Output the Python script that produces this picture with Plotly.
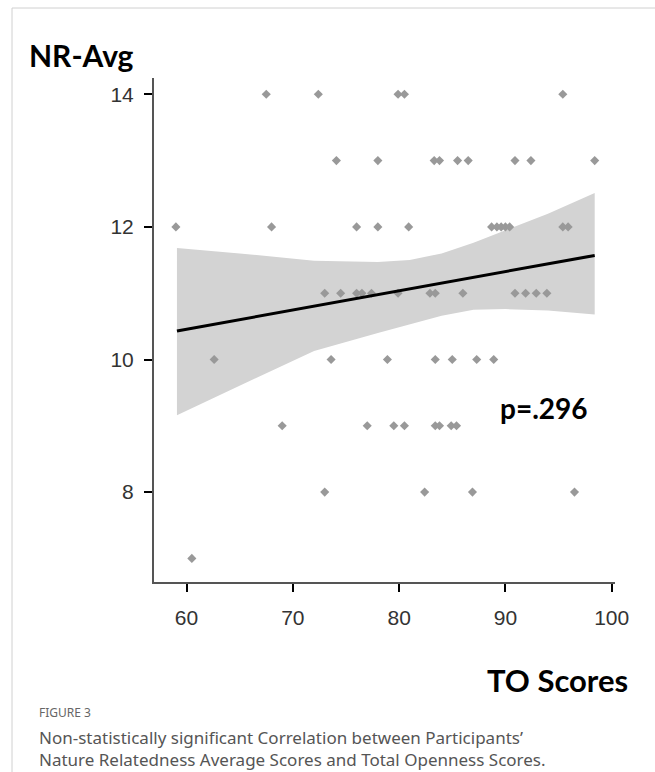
import plotly.graph_objects as go

# ---- data ----
to_scores = [
    # NR = 14
    67.5, 72.4, 79.9, 80.5, 95.4,
    # NR = 13
    74.1, 78.0, 83.3, 83.8, 85.5, 86.5, 90.9, 92.4, 98.4,
    # NR = 12
    59.0, 68.0, 76.0, 78.0, 80.9, 88.7, 89.2, 89.6, 90.0, 90.4, 95.4, 95.9,
    # NR = 11
    73.0, 74.5, 76.0, 76.5, 77.4, 79.9, 82.9, 83.4, 86.0, 90.9, 91.9, 92.9, 93.9,
    # NR = 10
    62.6, 73.6, 78.9, 83.4, 85.0, 87.3, 88.9,
    # NR = 9
    69.0, 77.0, 79.5, 80.5, 83.4, 83.8, 84.9, 85.4,
    # NR = 8
    73.0, 82.4, 86.9, 96.5,
    # NR = 7
    60.5,
]
nr_avg = (
    [14] * 5 + [13] * 9 + [12] * 12 + [11] * 13 + [10] * 7 + [9] * 8 + [8] * 4 + [7] * 1
)

fit_x = [59.1, 98.4]
fit_y = [10.43, 11.57]

band_x = [59.1, 65, 72, 78, 81, 84, 87, 90, 94, 98.4]
band_upper = [11.68, 11.60, 11.49, 11.47, 11.50, 11.60, 11.76, 11.95, 12.20, 12.51]
band_lower = [9.16, 9.60, 10.13, 10.40, 10.53, 10.66, 10.75, 10.76, 10.74, 10.68]

x_ticks = [60, 70, 80, 90, 100]
y_ticks = [8, 10, 12, 14]

# ---- layout geometry (pixels) ----
W, H = 655, 772
L, R, T, B = 154, 615, 78, 582


def px(x):
    return (x - L) / (R - L)


def py(y):
    return (B - y) / (B - T)


fig = go.Figure()
fig.add_trace(go.Scatter(x=band_x, y=band_lower, mode="lines",
                         line=dict(width=0, color="#d3d3d3"), hoverinfo="skip",
                         showlegend=False))
fig.add_trace(go.Scatter(x=band_x, y=band_upper, mode="lines", fill="tonexty",
                         fillcolor="#d3d3d3", line=dict(width=0, color="#d3d3d3"),
                         hoverinfo="skip", showlegend=False))
fig.add_trace(go.Scatter(x=to_scores, y=nr_avg, mode="markers",
                         marker=dict(symbol="diamond", size=7, color="#999999",
                                     line=dict(width=0)),
                         showlegend=False))
fig.add_trace(go.Scatter(x=fit_x, y=fit_y, mode="lines",
                         line=dict(color="black", width=3), showlegend=False))

tick_font = dict(family="Liberation Sans, Arial, sans-serif", size=21, color="#333333")

fig.update_layout(
    width=W, height=H,
    margin=dict(l=L, r=W - R, t=T, b=H - B, pad=0),
    paper_bgcolor="white", plot_bgcolor="white",
    xaxis=dict(range=[56.94, 100.31], tickvals=x_ticks, showgrid=False, zeroline=False,
               showline=True, linecolor="#555555", linewidth=2,
               ticks="outside", ticklen=8, tickwidth=2, tickcolor="black",
               tickfont=tick_font, ticklabelstandoff=8),
    yaxis=dict(range=[6.644, 14.246], tickvals=y_ticks, showgrid=False, zeroline=False,
               showline=True, linecolor="#555555", linewidth=2,
               ticks="outside", ticklen=8, tickwidth=2, tickcolor="black",
               tickfont=tick_font, ticklabelstandoff=6),
    showlegend=False,
)

bold_font = "Lato, Open Sans, sans-serif"
cap_font = "Noto Sans, Open Sans, sans-serif"
annotations = [
    dict(text="<b>NR-Avg</b>", x=px(27), y=py(55), xanchor="left", yanchor="middle",
         font=dict(family=bold_font, size=30, color="black")),
    dict(text="<b>TO Scores</b>", x=px(630), y=py(680), xanchor="right", yanchor="middle",
         font=dict(family=bold_font, size=31, color="black")),
    dict(text="<b>p=.296</b>", x=px(544), y=py(408), xanchor="center", yanchor="middle",
         font=dict(family=bold_font, size=28, color="black")),
    dict(text="FIGURE 3", x=px(37), y=py(712), xanchor="left", yanchor="middle",
         font=dict(family=cap_font, size=12, color="#666666")),
    dict(text="Non-statistically significant Correlation between Participants’",
         x=px(37), y=py(737), xanchor="left", yanchor="middle",
         font=dict(family=cap_font, size=17, color="#555555")),
    dict(text="Nature Relatedness Average Scores and Total Openness Scores.",
         x=px(37), y=py(759), xanchor="left", yanchor="middle",
         font=dict(family=cap_font, size=17, color="#555555")),
]
for a in annotations:
    a.update(xref="paper", yref="paper", showarrow=False)
fig.update_layout(annotations=annotations)

fig.update_layout(shapes=[
    dict(type="line", xref="paper", yref="paper", x0=px(12), x1=px(655), y0=py(8), y1=py(8),
         line=dict(color="#d0d0d0", width=1)),
    dict(type="line", xref="paper", yref="paper", x0=px(12), x1=px(12), y0=py(8), y1=py(772),
         line=dict(color="#d0d0d0", width=1)),
])

fig.write_html("out.html", config={"displayModeBar": False},
               post_script="document.body.style.margin='0';document.body.style.overflow='hidden';")
